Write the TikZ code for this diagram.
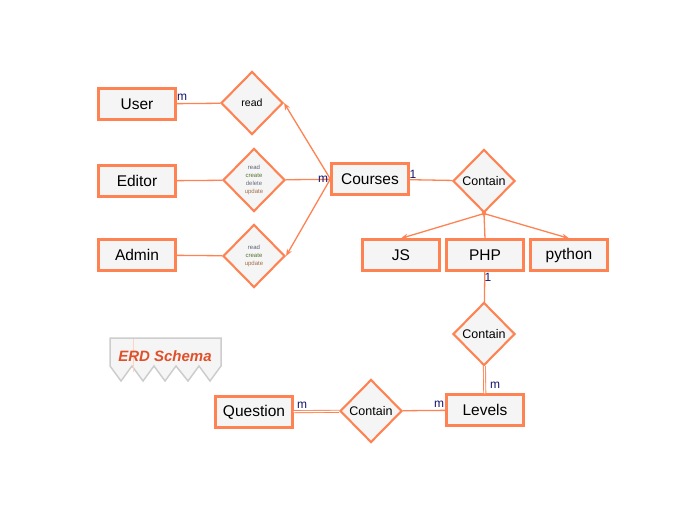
\documentclass[tikz,border=0pt]{standalone}
\usepackage{fontspec}
\setmainfont{Liberation Sans}
\usetikzlibrary{positioning,arrows.meta,shapes.geometric}
\definecolor{erdline}{HTML}{FF8352}
\definecolor{erdfill}{HTML}{F5F5F5}
\definecolor{erdcard}{HTML}{14146E}
\definecolor{erdtitle}{HTML}{E0502A}
\definecolor{erdgray}{HTML}{CDCDCD}
\definecolor{rdcol}{HTML}{5A5E72}
\definecolor{crcol}{HTML}{55742E}
\definecolor{dlcol}{HTML}{6A7080}
\definecolor{upcol}{HTML}{A0704A}
\tikzset{
  >={Stealth[length=7pt,width=5.5pt]},
  entity/.style={draw=erdline,fill=erdfill,line width=2.3pt,minimum width=77pt,
    minimum height=31pt,inner sep=1pt,font=\fontsize{15.5}{18}\selectfont},
  relship/.style={diamond,draw=erdline,fill=erdfill,line width=2.1pt,
    minimum width=62pt,minimum height=63pt,inner sep=0pt},
  link/.style={draw=erdline,line width=1.3pt},
  dbl/.style={draw=erdline,line width=0.9pt,double=white,double distance=1.2pt},
  card/.style={text=erdcard,font=\fontsize{12}{14}\selectfont,inner sep=0pt},
  ops/.style={font=\fontsize{6}{8}\selectfont,align=center},
}
\begin{document}
\begin{tikzpicture}[x=1pt,y=-1pt]
  \useasboundingbox (0,0) rectangle (694,506);
  % entities
  \node[entity] (user)   at (137,104) {User};
  \node[entity] (editor) at (137,181) {Editor};
  \node[entity] (admin)  at (137,255) {Admin};
  \node[entity] (courses) at (370,179) {Courses};
  \foreach \n/\x/\t in {js/401/JS,php/485/PHP,python/569/python} {
    \node[entity] (\n) at (\x,255) {\t};
  }
  \node[entity] (levels)   at (485,410) {Levels};
  \node[entity] (question) at (254,412) {Question};
  % relationships
  \node[relship,font=\fontsize{10.5}{12}\selectfont] (relread) at (252,103) {read};
  \node[relship,ops] (relcrud) at (254,180)
    {\textcolor{rdcol}{read}\\\textcolor{crcol}{create}\\\textcolor{dlcol}{delete}\\\textcolor{upcol}{update}};
  \node[relship,ops] (relcru) at (254,256)
    {\textcolor{rdcol}{read}\\\textcolor{crcol}{create}\\\textcolor{upcol}{update}};
  \node[relship,font=\fontsize{12.5}{14}\selectfont] (relcontain)  at (484,181) {Contain};
  \node[relship,font=\fontsize{12.5}{14}\selectfont] (relcontainb) at (484,334) {Contain};
  \node[relship,font=\fontsize{12.5}{14}\selectfont] (relcontainc) at (371,411) {Contain};
  % connectors
  \draw[link] (user) -- (relread);
  \draw[link] (editor) -- (relcrud) -- (courses);
  \draw[link] (admin) -- (relcru);
  \draw[link,->] (courses.west) -- (relread.east);
  \draw[link,->] (courses.west) -- (relcru.east);
  \draw[link] (courses) -- (relcontain);
  \draw[link,->] (relcontain.south) -- (js.north);
  \draw[link] (relcontain.south) -- (php.north);
  \draw[link,->] (relcontain.south) -- (python.north);
  \fill[erdline] (relcontain.south) circle (2.2pt);
  \draw[link] (php) -- (relcontainb);
  \draw[dbl] (relcontainb) -- (levels);
  \draw[link] (levels) -- (relcontainc);
  \draw[dbl] (relcontainc) -- (question);
  % cardinalities
  \node[card] at (182,97)  {m};
  \node[card] at (323,179) {m};
  \node[card] at (413,174) {1};
  \node[card] at (488,277) {1};
  \node[card] at (495,385) {m};
  \node[card] at (439,404) {m};
  \node[card] at (302,405) {m};
  % legend
  \draw[erdgray,fill=erdfill,line width=1.5pt] (110,338) -- (221,338) -- (221,366)
    -- (210,381) -- (199,366) -- (188,381) -- (176,366) -- (165,381) -- (154,366)
    -- (143,381) -- (132,366) -- (121,381) -- (110,366) -- cycle;
  \draw[erdline!35,line width=0.6pt] (133,339) -- (133,372);
  \node[text=erdtitle,font=\fontsize{15}{18}\bfseries\itshape\selectfont] (legend) at (165,356) {ERD Schema};
\end{tikzpicture}
\end{document}
